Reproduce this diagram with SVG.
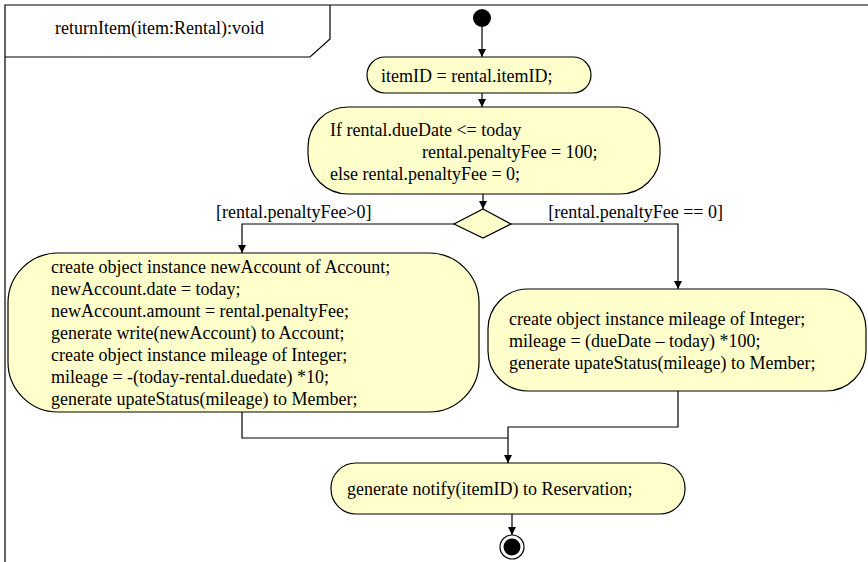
<svg xmlns="http://www.w3.org/2000/svg" width="868" height="562" viewBox="0 0 868 562">
<defs>
<style>
text{font-family:"Liberation Serif","Times New Roman",serif;font-size:18px;fill:#000}
.act{fill:#ffffcc;stroke:#000;stroke-width:1.2}
.frame{fill:none;stroke:#000;stroke-width:1.2}
.con{fill:none;stroke:#000;stroke-width:1.2;marker-end:url(#ah)}
.con2{fill:none;stroke:#000;stroke-width:1.2}
</style>
<marker id="ah" viewBox="0 0 10 10" refX="10" refY="5" markerWidth="8" markerHeight="8" markerUnits="userSpaceOnUse" orient="auto">
<path d="M0,0 L10,5 L0,10 z" fill="#000"/>
</marker>
</defs>
<rect width="868" height="562" fill="#fff"/>
<g id="frame">
<path class="frame" d="M868,5 H5 V562"/>
<path class="frame" d="M5,57 H310 L330,39 V5"/>
<text x="55" y="34">returnItem(item:Rental):void</text>
</g>
<g id="connectors">
<path class="con" d="M482,27 V57"/>
<path class="con" d="M482,93 V107"/>
<path class="con" d="M483,194 V209"/>
<path class="con" d="M454,224 H242 V253"/>
<path class="con" d="M511,224 H678 V289"/>
<path class="con2" d="M242,412 V438 H508"/>
<path class="con" d="M678,391 V427 H508 V463"/>
<path class="con" d="M512,514 V535"/>
<text x="216" y="218">[rental.penaltyFee&gt;0]</text>
<text x="723" y="218" text-anchor="end">[rental.penaltyFee == 0]</text>
</g>
<g id="start">
<circle cx="482" cy="18" r="9" fill="#000"/>
</g>
<g id="a1">
<rect class="act" x="367" y="57" width="224" height="36" rx="18"/>
<text x="381" y="82">itemID = rental.itemID;</text>
</g>
<g id="a2">
<rect class="act" x="308" y="107" width="352" height="87" rx="40"/>
<text x="330" y="136">If rental.dueDate &lt;= today</text>
<text x="422" y="158">rental.penaltyFee = 100;</text>
<text x="330" y="180">else rental.penaltyFee = 0;</text>
</g>
<g id="decision">
<path class="act" d="M483,209 L511,224 L483,238 L454,224 Z"/>
</g>
<g id="a3">
<rect class="act" x="8" y="253" width="471" height="159" rx="50"/>
<text x="51" y="273">create object instance newAccount of Account;</text>
<text x="51" y="295">newAccount.date = today;</text>
<text x="51" y="317">newAccount.amount = rental.penaltyFee;</text>
<text x="51" y="339">generate write(newAccount) to Account;</text>
<text x="51" y="361">create object instance mileage of Integer;</text>
<text x="51" y="383">mileage = -(today-rental.duedate) *10;</text>
<text x="51" y="405">generate upateStatus(mileage) to Member;</text>
</g>
<g id="a4">
<rect class="act" x="488" y="289" width="378" height="102" rx="40"/>
<text x="509" y="325">create object instance mileage of Integer;</text>
<text x="509" y="347">mileage = (dueDate – today) *100;</text>
<text x="509" y="369">generate upateStatus(mileage) to Member;</text>
</g>
<g id="a5">
<rect class="act" x="331" y="463" width="354" height="51" rx="25"/>
<text x="347" y="495">generate notify(itemID) to Reservation;</text>
</g>
<g id="end">
<circle cx="512" cy="547" r="12" fill="#fff" stroke="#000" stroke-width="1.2"/>
<circle cx="512" cy="547" r="8.5" fill="#000"/>
</g>
</svg>
